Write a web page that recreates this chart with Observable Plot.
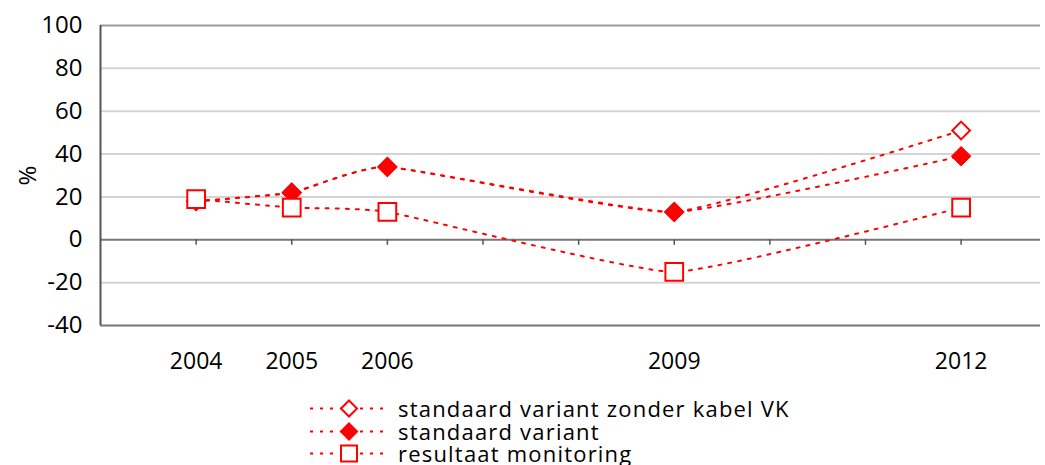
<!DOCTYPE html>
<html>
<head>
<meta charset="utf-8">
<script src="https://cdn.jsdelivr.net/npm/d3@7"></script>
<script src="https://cdn.jsdelivr.net/npm/@observablehq/plot@0.6"></script>
<style>
  body { margin: 0; background: #fff; font-family: "Open Sans", sans-serif; }
  #chart svg { display: block; }
  #legend { position: relative; width: 1045px; height: 75px; overflow: hidden; }
  .item { position: absolute; left: 308px; height: 21px; display: flex; align-items: center; }
  .item span { font-size: 22px; color: #000; margin-left: 10px; line-height: 21px; letter-spacing: 1.2px; white-space: nowrap; }
</style>
</head>
<body>
<div id="chart"></div>
<div id="legend"></div>
<script>
const years = [2004, 2005, 2006, 2009, 2012];
const allYears = [2004, 2005, 2006, 2007, 2008, 2009, 2010, 2011, 2012];
const seriesNames = ["standaard variant zonder kabel VK", "standaard variant", "resultaat monitoring"];
const zonderKabel = [18, 22, 34, 13, 51];
const standaard = [18, 22, 34, 13, 39];
const monitoring = [19, 15, 13, -15, 15];
const yTicks = [-40, -20, 0, 20, 40, 60, 80, 100];

const toRows = (vals, name) => years.map((y, i) => ({year: y, value: vals[i], series: name}));
const dZ = toRows(zonderKabel, seriesNames[0]);
const dS = toRows(standaard, seriesNames[1]);
const dM = toRows(monitoring, seriesNames[2]);

const red = "#ff0000";
const lineOpts = {x: "year", y: "value", stroke: red, strokeWidth: 2, strokeDasharray: "3,7", curve: "cardinal", tension: 0.6};

const chart = Plot.plot({
  width: 1045,
  height: 390,
  marginLeft: 100,
  marginRight: 5,
  marginTop: 25,
  marginBottom: 65,
  style: {fontFamily: "Open Sans, sans-serif", fontSize: "24px", color: "#000"},
  x: {domain: [2003, 2012.83]},
  y: {domain: [-40, 100]},
  marks: [
    Plot.ruleY(yTicks.filter(v => v !== 0 && v !== -40 && v !== 100), {stroke: "#d4d4d4", strokeWidth: 2}),
    Plot.ruleY([100], {stroke: "#9a9a9a", strokeWidth: 2}),
    Plot.ruleY([0, -40], {stroke: "#777", strokeWidth: 2}),
    Plot.ruleX(allYears, {x: d => d, y1: 0, y2: -2.6, stroke: "#555", strokeWidth: 1.5}),
    Plot.axisY({ticks: yTicks, tickSize: 6, tickPadding: 12, tickFormat: d => String(d), label: "%", labelAnchor: "center", labelArrow: "none", labelOffset: 82, fontSize: 24, stroke: null}),
    Plot.ruleX([2003], {stroke: "#555", strokeWidth: 2}),
    Plot.axisX({ticks: years, tickSize: 0, tickPadding: 27, tickFormat: d => String(d), label: null, fontSize: 23}),
    Plot.line(dZ, lineOpts),
    Plot.line(dS, lineOpts),
    Plot.line(dM, lineOpts),
    Plot.dot(dZ, {x: "year", y: "value", symbol: "diamond2", r: 8, stroke: red, strokeWidth: 2, fill: "white"}),
    Plot.dot(dS, {x: "year", y: "value", symbol: "diamond2", r: 8.8, stroke: red, strokeWidth: 1, fill: red}),
    Plot.dot(dM, {x: "year", y: "value", symbol: "square", r: 10, stroke: red, strokeWidth: 2, fill: "white"})
  ]
});
document.getElementById("chart").appendChild(chart);

// legend
const legend = d3.select("#legend");
const markers = ["openDiamond", "diamond", "square"];
const tops = [8, 30.5, 53];
seriesNames.forEach((name, i) => {
  const item = legend.append("div").attr("class", "item").style("top", (tops[i]) + "px");
  const svg = item.append("svg").attr("width", 80).attr("height", 21);
  svg.append("line").attr("x1", 2).attr("x2", 78).attr("y1", 10.5).attr("y2", 10.5)
    .attr("stroke", red).attr("stroke-width", 2).attr("stroke-dasharray", "3,7");
  const cx = 41, cy = 10.5;
  if (markers[i] === "square") {
    svg.append("rect").attr("x", cx - 8).attr("y", cy - 8).attr("width", 16).attr("height", 16)
      .attr("fill", "white").attr("stroke", red).attr("stroke-width", 2);
  } else {
    const r = 8;
    svg.append("path").attr("d", `M${cx},${cy - r}L${cx + r},${cy}L${cx},${cy + r}L${cx - r},${cy}Z`)
      .attr("fill", markers[i] === "diamond" ? red : "white").attr("stroke", red).attr("stroke-width", 2);
  }
  item.append("span").text(name);
});
</script>
</body>
</html>
